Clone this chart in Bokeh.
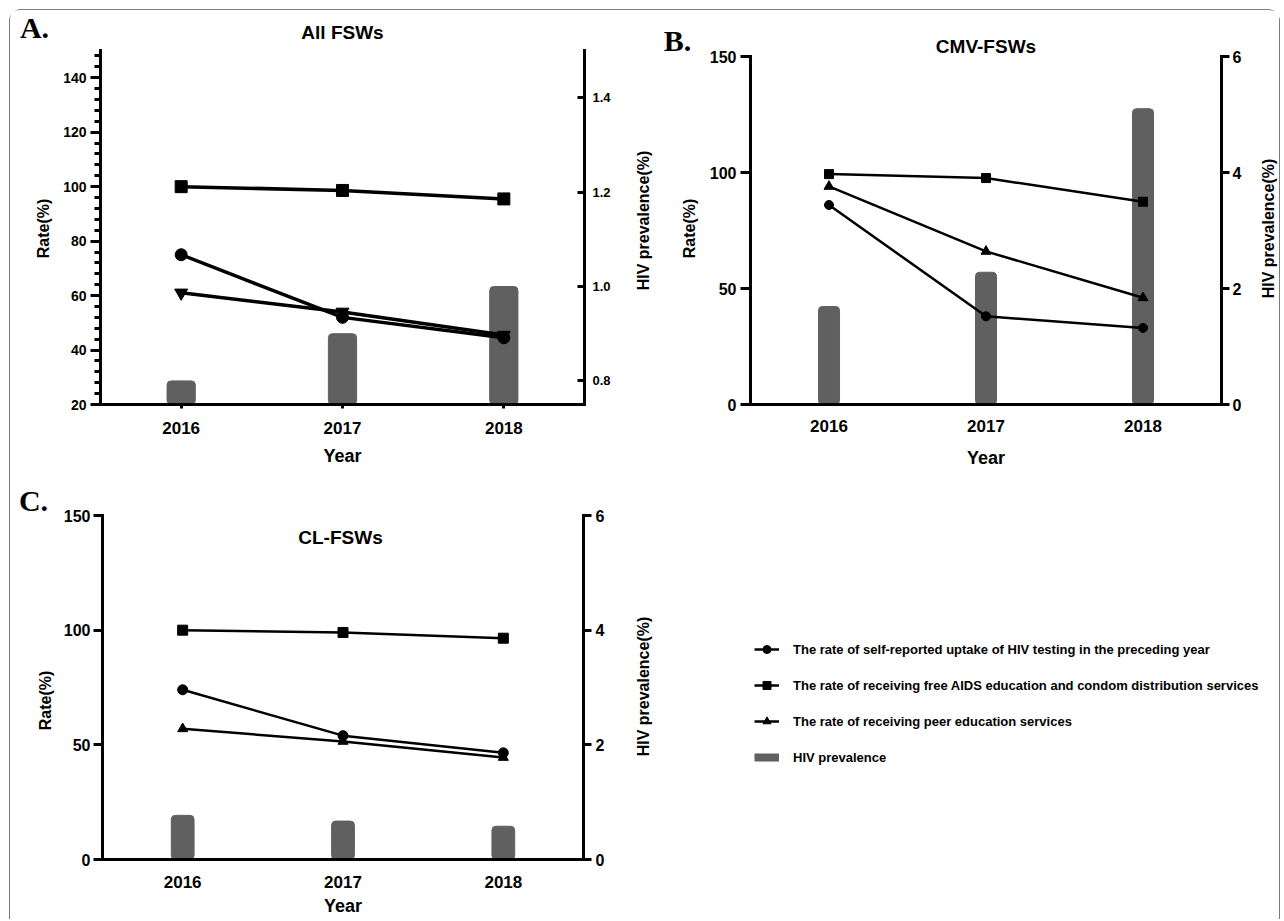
import math
from bokeh.plotting import figure
from bokeh.models import (Range1d, LinearAxis, FixedTicker, Label, Legend,
                          LegendItem, NumeralTickFormatter)
from bokeh.layouts import row, column
from bokeh.embed import file_html
from bokeh.resources import INLINE

# ---------------- data ----------------
years = ["2016", "2017", "2018"]
xpos = [0, 1, 2]

series_names = [
    "The rate of self-reported uptake of HIV testing in the preceding year",
    "The rate of receiving free AIDS education and condom distribution services",
    "The rate of receiving peer education services",
    "HIV prevalence",
]

# A. All FSWs
a_testing = [75, 52, 44.5]
a_condom = [100, 98.6, 95.5]
a_peer = [61, 54, 45.5]
a_hiv = [0.80, 0.90, 1.00]

# B. CMV-FSWs
b_testing = [86, 38, 33]
b_condom = [99.3, 97.6, 87.4]
b_peer = [94, 66, 46]
b_hiv = [1.69, 2.28, 5.10]

# C. CL-FSWs
c_testing = [74, 54, 46.5]
c_condom = [100, 99, 96.5]
c_peer = [57, 51.5, 44.5]
c_hiv = [0.77, 0.67, 0.58]

a_left_ticks = [20, 40, 60, 80, 100, 120, 140]
a_left_minor = [24, 28, 32, 36, 44, 48, 52, 56, 64, 68, 72, 76, 84, 88, 92, 96,
                104, 108, 112, 116, 124, 128, 132, 136, 144, 148]
a_right_ticks = [0.8, 1.0, 1.2, 1.4]
bc_left_ticks = [0, 50, 100, 150]
bc_right_ticks = [0, 2, 4, 6]

SANS = "Liberation Sans"
SERIF = "Liberation Serif"
BAR = "#606060"
R90 = math.pi / 2


def style_axis(ax, size, tick_out, tick_in, standoff, minor_out=0):
    ax.axis_line_width = 3
    ax.axis_line_color = "black"
    ax.axis_line_cap = "square"
    ax.major_tick_line_width = 3
    ax.major_tick_line_color = "black"
    ax.major_tick_out = tick_out
    ax.major_tick_in = tick_in
    ax.minor_tick_line_width = 3
    ax.minor_tick_line_color = "black" if minor_out else None
    ax.minor_tick_out = minor_out
    ax.minor_tick_in = 0
    ax.major_label_text_font = SANS
    ax.major_label_text_font_style = "bold"
    ax.major_label_text_font_size = f"{size}px"
    ax.major_label_text_color = "black"
    ax.major_label_standoff = standoff


def text_label(p, text, sx, sy, size, angle=0.0, font=SANS):
    p.add_layout(Label(x=sx, y=sy, x_units="screen", y_units="screen", text=text,
                       text_font=font, text_font_size=f"{size}px",
                       text_font_style="bold", text_color="black",
                       text_align="center", text_baseline="middle", angle=angle))


def strip(width, height, labels):
    s = figure(width=width, height=height, output_backend="svg", toolbar_location=None,
               x_range=Range1d(0, 1), y_range=Range1d(0, 1), min_border=0,
               x_axis_location=None, y_axis_location=None)
    s.grid.visible = False
    s.outline_line_color = None
    s.title.visible = False
    for lab in labels:
        text_label(s, *lab)
    return s


def panel(width, height, borders, yl, yl_ticks, yl_minor, yr, yr_ticks, yr_fmt,
          testing, condom, peer, hiv, peer_marker, bar_w, lw, msz,
          left_ax, right_ax, x_ax, year_standoff, title=None, inside_title=None):
    p = figure(width=width, height=height, output_backend="svg", toolbar_location=None,
               x_range=Range1d(-0.5, 2.5), y_range=Range1d(*yl),
               min_border_left=borders[0], min_border_right=borders[1],
               min_border_top=borders[2], min_border_bottom=borders[3])
    p.extra_y_ranges = {"hiv": Range1d(*yr)}
    p.outline_line_color = None
    p.xgrid.visible = False
    p.ygrid.visible = False

    # bars (right axis)
    p.vbar(x=xpos, top=hiv, bottom=yr[0], width=bar_w, y_range_name="hiv",
           fill_color=BAR, line_color=BAR, border_radius=4)

    # lines (left axis)
    for vals, mk, s in [(condom, "square", msz[0]), (testing, "circle", msz[1]),
                        (peer, peer_marker, msz[2])]:
        p.line(xpos, vals, line_color="black", line_width=lw)
        p.scatter(xpos, vals, marker=mk, size=s, fill_color="black", line_color="black")

    xa = p.xaxis[0]
    xa.ticker = FixedTicker(ticks=xpos)
    xa.major_label_overrides = {i: y for i, y in zip(xpos, years)}
    style_axis(xa, *x_ax)
    xa.axis_label = "Year"
    xa.axis_label_text_font = SANS
    xa.axis_label_text_font_style = "bold"
    xa.axis_label_text_font_size = "18px"
    xa.axis_label_text_color = "black"
    xa.axis_label_standoff = year_standoff

    ya = p.yaxis[0]
    ya.ticker = FixedTicker(ticks=yl_ticks, minor_ticks=yl_minor)
    style_axis(ya, *left_ax)

    ra = LinearAxis(y_range_name="hiv", ticker=FixedTicker(ticks=yr_ticks),
                    formatter=NumeralTickFormatter(format=yr_fmt))
    style_axis(ra, *right_ax)
    p.add_layout(ra, "right")

    if title is not None:
        p.title.text = title[0]
        p.title.align = "center"
        p.title.offset = title[1]
        p.title.standoff = title[2]
        p.title.text_font = SANS
        p.title.text_font_style = "bold"
        p.title.text_font_size = "19px"
        p.title.text_color = "black"
    else:
        p.title.visible = False
    if inside_title is not None:
        text_label(p, inside_title[0], inside_title[1], inside_title[2], 19)
    return p


# ---------------- panel A (x 10..656, y 10..472) ----------------
leftA = strip(48, 462, [("A.", 24, 445, 30, 0.0, SERIF),
                        ("Rate(%)", 33, 244, 16, R90)])
pA = panel(572, 462, (42, 46, 40, 68), (20, 150), a_left_ticks, a_left_minor,
           (0.75, 1.5), a_right_ticks, "0.0",
           a_testing, a_condom, a_peer, a_hiv, "inverted_triangle", 0.175, 3.5, (12, 12, 13),
           left_ax=(14, 10, 0, 4, 6), right_ax=(13, 0, 7, 8), x_ax=(17, 4, 0, 13),
           year_standoff=9, title=("All FSWs", -5, 15))
sideA = strip(26, 462, [("HIV prevalence(%)", 13, 184, 16, R90)])

# ---------------- panel B (x 656..1279, y 10..472) ----------------
leftB = strip(44, 462, [("B.", 21, 432, 30, 0.0, SERIF),
                        ("Rate(%)", 33, 244, 16, R90)])
pB = panel(552, 462, (50, 31, 46, 68), (0, 150), bc_left_ticks, [],
           (0, 6), bc_right_ticks, "0",
           b_testing, b_condom, b_peer, b_hiv, "triangle", 0.134, 2.5, (9, 9, 10),
           left_ax=(16, 10, 0, 4), right_ax=(16, 8, 0, 3), x_ax=(17, 0, 0, 15),
           year_standoff=13, title=("CMV-FSWs", 0, 0))
sideB = strip(27, 462, [("HIV prevalence(%)", 16, 176, 16, R90)])

# ---------------- panel C (x 10..656, y 472..919) ----------------
leftC = strip(48, 447, [("C.", 23, 419, 30, 0.0, SERIF),
                        ("Rate(%)", 35, 219, 16, R90)])
pC = panel(572, 447, (44, 47, 43, 60), (0, 150), bc_left_ticks, [],
           (0, 6), bc_right_ticks, "0",
           c_testing, c_condom, c_peer, c_hiv, "triangle", 0.142, 2.5, (10, 10, 10),
           left_ax=(16, 9, 0, 3), right_ax=(16, 8, 0, 4), x_ax=(17, 0, 0, 16),
           year_standoff=5, inside_title=("CL-FSWs", 238, 322))
sideC = strip(26, 447, [("HIV prevalence(%)", 13, 173, 16, R90)])

# ---------------- legend panel (x 656..1279, y 472..919) ----------------
pL = figure(width=623, height=447, output_backend="svg", toolbar_location=None,
            x_range=Range1d(0, 1), y_range=Range1d(0, 1), min_border=0,
            x_axis_location=None, y_axis_location=None)
pL.grid.visible = False
pL.outline_line_color = None
pL.title.visible = False

hx, hy = [5, 6], [5, 6]  # outside the visible range; drawn only as legend keys
r1l = pL.line(hx, hy, line_color="black", line_width=2.5)
r1s = pL.scatter(hx, hy, marker="circle", size=10, fill_color="black", line_color="black")
r2l = pL.line(hx, hy, line_color="black", line_width=2.5)
r2s = pL.scatter(hx, hy, marker="square", size=10, fill_color="black", line_color="black")
r3l = pL.line(hx, hy, line_color="black", line_width=2.5)
r3s = pL.scatter(hx, hy, marker="triangle", size=10, fill_color="black", line_color="black")
r4 = pL.line(hx, hy, line_color=BAR, line_width=8)

legend = Legend(items=[LegendItem(label=series_names[0], renderers=[r1l, r1s]),
                       LegendItem(label=series_names[1], renderers=[r2l, r2s]),
                       LegendItem(label=series_names[2], renderers=[r3l, r3s]),
                       LegendItem(label=series_names[3], renderers=[r4])],
                location=(98, 152), padding=0, margin=0, spacing=16,
                glyph_width=25, glyph_height=20, label_height=20, label_standoff=14,
                label_text_font=SANS, label_text_font_style="bold",
                label_text_font_size="13px", label_text_color="black",
                border_line_color=None, background_fill_alpha=0)
pL.add_layout(legend, "center")

colA = column(row(column(leftA), pA, sideA))
colB = column(row(column(leftB), pB, sideB))
colC = column(row(column(leftC), pC, sideC))

layout = column(row(colA, colB), row(colC, pL),
                styles={"margin-left": "9px", "margin-top": "9px",
                        "border": "1px solid #7a7a7a", "border-bottom": "none",
                        "border-radius": "12px 12px 0 0"})

open("out.html", "w").write(file_html(layout, INLINE))
